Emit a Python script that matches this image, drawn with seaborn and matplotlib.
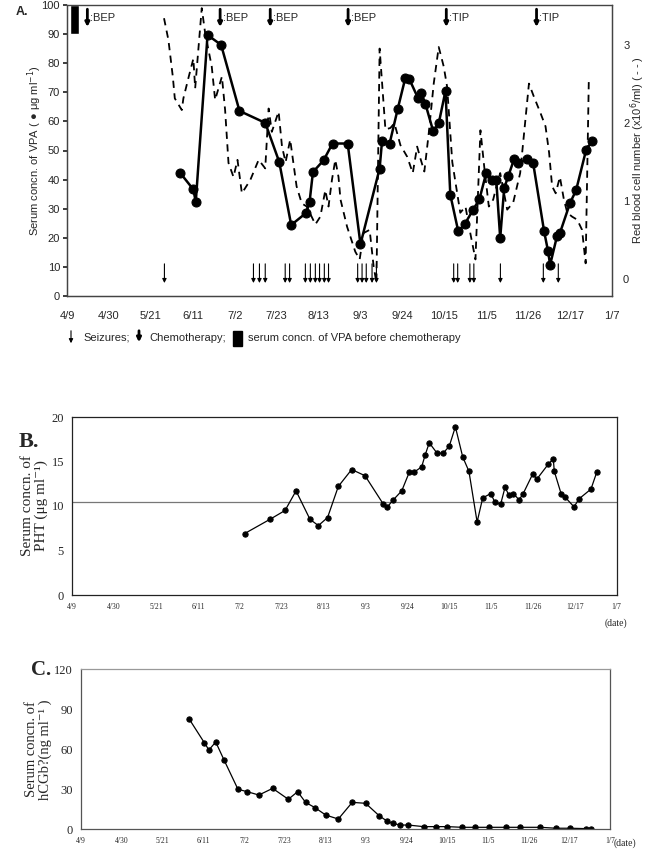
import matplotlib
matplotlib.use("Agg")
import matplotlib.pyplot as plt
import seaborn as sns
from matplotlib.patches import Rectangle

# x values are days counted from 4/9
tick_days = list(range(0, 274, 21))
tick_labels = ["4/9", "4/30", "5/21", "6/11", "7/2", "7/23", "8/13", "9/3",
               "9/24", "10/15", "11/5", "11/26", "12/17", "1/7"]

# Panel A: serum VPA (left axis)
vpa_days = [56.7, 63.3, 64.5, 70.4, 77.2, 86.4, 99.3, 106.3, 112.3, 119.7, 121.5,
            123.2, 128.5, 133.0, 140.6, 147.0, 156.6, 157.8, 161.6, 165.6, 169.5,
            171.5, 175.7, 177.5, 179.5, 183.4, 186.2, 189.6, 192.0, 196.0, 199.3,
            203.5, 206.6, 210.0, 213.0, 215.0, 217.0, 219.0, 221.0, 224.0, 226.0,
            230.5, 233.5, 239.0, 241.0, 242.0, 245.5, 247.0, 252.0, 255.0, 260.0,
            263.0]
vpa_values = [42.3, 36.6, 32.3, 89.7, 86.3, 63.6, 59.5, 46.1, 24.4, 28.5, 32.3,
              42.6, 46.6, 52.4, 52.4, 17.8, 43.8, 53.2, 52.4, 64.1, 75.0,
              74.5, 68.2, 69.7, 66.1, 56.7, 59.3, 70.5, 34.8, 22.2, 24.8,
              29.7, 33.3, 42.3, 40.0, 40.0, 19.9, 37.1, 41.1, 47.1, 45.7,
              47.1, 45.7, 22.2, 15.3, 10.7, 20.7, 21.8, 32.0, 36.3, 50.1,
              53.2]

# Panel A: red blood cell number (right axis, x10^6/ml)
rbc_days = [48.6, 50.8, 53.0, 54.0, 57.5, 58.3, 61.0, 63.3, 64.2, 67.5, 69.2,
            72.5, 74.2, 77.6, 79.2, 80.9, 83.4, 85.4, 87.6, 91.8, 96.0, 99.3,
            101.0, 102.6, 106.0, 107.7, 109.5, 111.8, 115.0, 117.6, 120.1, 124.4,
            126.9, 129.4, 131.0, 132.7, 134.4, 136.0, 137.0, 140.3, 144.4, 146.6,
            148.6, 151.6, 153.6, 155.0, 156.6, 159.5, 162.0, 164.0, 167.0, 170.4,
            173.2, 175.4, 177.0, 179.0, 181.2, 183.7, 186.2, 188.7, 190.4, 193.0,
            197.0, 199.6, 202.0, 204.6, 207.1, 209.0, 211.3, 213.5, 215.5, 217.0,
            220.5, 223.5, 227.0, 231.4, 233.9, 237.2, 239.7, 241.5, 243.0, 244.8,
            246.9, 248.9, 250.6, 253.0, 255.6, 258.0, 259.8, 261.4]
rbc_values = [3.35, 3.07, 2.60, 2.32, 2.17, 2.32, 2.60, 2.83, 2.45, 3.48, 3.16,
              2.73, 2.30, 2.60, 2.17, 1.49, 1.31, 1.53, 1.10, 1.27, 1.53, 1.42,
              2.19, 1.89, 2.15, 1.70, 1.50, 1.79, 1.19, 0.97, 0.93, 0.70,
              0.80, 1.14, 0.93, 1.27, 1.53, 1.31, 1.02, 0.67, 0.35, 0.25,
              0.59, 0.63, 0.16, -0.05, 2.96, 1.92, 1.94, 2.00, 1.72, 1.57,
              1.36, 1.70, 1.55, 1.38, 1.87, 2.51, 2.98, 2.73, 2.47, 1.50,
              0.85, 0.93, 0.59, 0.25, 1.91, 1.44, 0.93, 1.02, 1.23, 1.36,
              0.89, 0.98, 1.36, 2.51, 2.34, 2.13, 1.96, 1.62, 1.19, 1.10,
              1.31, 1.02, 0.85, 0.80, 0.76, 0.63, 0.20, 2.58]

seizure_days = [48.8, 93.4, 96.4, 99.3, 109.3, 111.5, 119.4, 121.9, 124.4, 126.5,
                128.9, 131.0, 145.6, 147.8, 149.9, 152.8, 155.0, 193.7, 195.7,
                201.8, 203.8, 217.1, 238.6, 246.1]
chemo_days = [10.2, 76.7, 101.8, 140.8, 190.0, 235.2]
chemo_labels = [":BEP", ":BEP", ":BEP", ":BEP", ":TIP", ":TIP"]
pre_chemo_day = 3.85
pre_chemo_range = [90, 100]

# Panel B: serum PHT
pht_days = [86.4, 99.1, 106.7, 112.2, 119.2, 123.4, 128.0, 133.4, 140.1, 146.8,
            156.0, 158.0, 161.0, 165.2, 169.0, 171.4, 175.2, 176.9, 179.0, 182.7,
            185.8, 189.0, 192.1, 195.8, 198.9, 203.0, 205.8, 209.8, 212.0, 214.8,
            217.0, 219.0, 221.2, 224.0, 225.9, 230.9, 232.9, 238.7, 241.2, 241.7,
            245.1, 247.1, 251.6, 254.1, 260.1, 263.0]
pht_values = [6.9, 8.5, 9.5, 11.7, 8.5, 7.8, 8.7, 12.2, 14.1, 13.4,
              10.2, 9.9, 10.7, 11.7, 13.8, 13.8, 14.4, 15.7, 17.1, 16.0,
              15.9, 16.7, 18.9, 15.5, 13.9, 8.2, 10.9, 11.4, 10.4, 10.2,
              12.1, 11.2, 11.4, 10.7, 11.3, 13.6, 13.0, 14.7, 15.3, 13.9,
              11.4, 11.0, 9.9, 10.8, 11.9, 13.8]
pht_reference = 10.5

# Panel C: serum hCG beta
hcg_days = [55.8, 63.5, 65.9, 69.4, 73.7, 80.9, 85.7, 91.7, 98.8, 106.9, 111.7,
            115.8, 120.7, 126.2, 132.7, 139.9, 146.8, 153.8, 158.0, 160.8, 164.5,
            168.8, 176.7, 183.1, 189.0, 196.5, 203.3, 210.4, 219.4, 226.4, 237.1,
            245.0, 252.4, 260.5, 263.1]
hcg_values = [82.5, 65.0, 59.5, 65.5, 52.0, 30.0, 28.2, 25.7, 30.7, 22.5, 28.2,
              20.2, 16.2, 10.7, 7.7, 20.2, 19.5, 10.2, 6.0, 4.5, 3.2,
              3.2, 2.0, 2.0, 2.0, 1.5, 1.5, 1.5, 1.5, 1.5, 1.5,
              0.8, 0.8, 0.5, 0.5]

W, H = 647, 852


def fx(px):
    return px / W


def fy(py):
    return 1 - py / H


sns.set_theme(style="white")
plt.rcParams["font.family"] = ["Liberation Sans", "DejaVu Sans"]
plt.rcParams["axes.linewidth"] = 0.9

fig = plt.figure(figsize=(W / 100, H / 100), dpi=100)

# ---------------- Panel A ----------------
ax = fig.add_axes([fx(67), fy(296), fx(612) - fx(67), fy(5) - fy(296)])
ax2 = ax.twinx()

ax.bar(pre_chemo_day, pre_chemo_range[1] - pre_chemo_range[0], bottom=pre_chemo_range[0],
       width=4.7, color="black", zorder=3)
sns.lineplot(x=vpa_days, y=vpa_values, ax=ax, color="black", lw=1.8, marker="o",
             markersize=6.5, markeredgecolor="black", zorder=4)
sns.lineplot(x=rbc_days, y=rbc_values, ax=ax2, color="black", lw=1.3,
             linestyle=(0, (4, 3)))

for d in seizure_days:
    ax.annotate("", xy=(d, 3.5), xytext=(d, 12),
                arrowprops=dict(arrowstyle="-|>", lw=0.8, color="black", mutation_scale=6))
for d, lab in zip(chemo_days, chemo_labels):
    ax.annotate("", xy=(d, 91.5), xytext=(d, 99.5),
                arrowprops=dict(arrowstyle="-|>", lw=2.0, color="black", mutation_scale=6))
    ax.text(d + 1.3, 95.7, lab, fontsize=8, va="center", ha="left")

ax.set_xlim(0, 273)
ax.set_ylim(0, 100)
ax.set_yticks(range(0, 101, 10))
ax.set_xticks(tick_days)
ax.set_xticklabels(tick_labels)
ax.tick_params(axis="x", direction="in", length=3, labelsize=8, pad=11)
ax.tick_params(axis="y", direction="out", length=3, labelsize=8, pad=2)
ax.set_ylabel("Serum concn. of VPA ( \u25CF \u03bcg ml$^{-1}$)", fontsize=8)
ax.yaxis.set_label_coords(-0.042, 0.5)
ax2.set_ylim(-0.22, 3.52)
ax2.set_yticks([0, 1, 2, 3])
ax2.tick_params(axis="y", length=0, labelsize=8, pad=8)
ax2.set_ylabel("Red blood cell number (x10$^{6}$/ml) ( - -\u2009)", fontsize=8, rotation=90)
ax2.yaxis.set_label_coords(1.047, 0.5)
ax2.yaxis.label.set_va("center")
for a in (ax, ax2):
    for s in a.spines.values():
        s.set_color("#444444")
ax.spines["top"].set_color("#888888")

fig.text(fx(16), fy(12), "A.", fontsize=9, fontweight="bold", va="center")

# legend row for panel A
ax.annotate("", xy=(fx(71), fy(346)), xytext=(fx(71), fy(328)), xycoords="figure fraction",
            arrowprops=dict(arrowstyle="-|>", lw=0.8, color="black", mutation_scale=6),
            annotation_clip=False)
fig.text(fx(83), fy(338), "Seizures;", fontsize=8, va="center")
ax.annotate("", xy=(fx(139), fy(345)), xytext=(fx(139), fy(328)), xycoords="figure fraction",
            arrowprops=dict(arrowstyle="-|>", lw=2.0, color="black", mutation_scale=6),
            annotation_clip=False)
fig.text(fx(149), fy(338), "Chemotherapy;", fontsize=8, va="center")
fig.add_artist(Rectangle((fx(233), fy(346)), fx(9), fy(331) - fy(346),
                         transform=fig.transFigure, color="black"))
fig.text(fx(248), fy(338), "serum concn. of VPA before chemotherapy", fontsize=8, va="center")

serif = ["Liberation Serif", "DejaVu Serif"]

# ---------------- Panel B ----------------
bx = fig.add_axes([fx(72.3), fy(595), fx(616.7) - fx(72.3), fy(417) - fy(595)])
bx.axhline(pht_reference, color="#777777", lw=0.9)
sns.lineplot(x=pht_days, y=pht_values, ax=bx, color="black", lw=0.9, marker="o",
             markersize=3.8, markeredgecolor="black")
bx.set_xlim(0, 273)
bx.set_ylim(0, 20)
bx.set_yticks(range(0, 21, 5))
bx.set_xticks(tick_days)
bx.set_xticklabels(tick_labels)
bx.tick_params(axis="x", direction="out", length=2.5, labelsize=5.5, pad=3)
bx.tick_params(axis="y", direction="out", length=3, labelsize=9, pad=3)
for lab in bx.get_xticklabels() + bx.get_yticklabels():
    lab.set_family(serif)
bx.set_ylabel("Serum concn. of\nPHT (\u03bcg ml\u207b\u00b9)", fontsize=11, family=serif,
              linespacing=1.05)
bx.yaxis.set_label_coords(-0.044, 0.5)
for s in bx.spines.values():
    s.set_color("#222222")
fig.text(fx(19), fy(442), "B.", fontsize=16, fontweight="bold", family=serif, va="center")
fig.text(fx(605), fy(623), "(date)", fontsize=7, family=serif, va="center")

# ---------------- Panel C ----------------
cx = fig.add_axes([fx(81.3), fy(829.3), fx(610) - fx(81.3), fy(669.3) - fy(829.3)])
sns.lineplot(x=hcg_days, y=hcg_values, ax=cx, color="black", lw=0.9, marker="o",
             markersize=3.8, markeredgecolor="black")
cx.set_xlim(0, 273)
cx.set_ylim(0, 120)
cx.set_yticks(range(0, 121, 30))
cx.set_xticks(tick_days)
cx.set_xticklabels(tick_labels)
cx.tick_params(axis="x", direction="out", length=2.5, labelsize=5.5, pad=3)
cx.tick_params(axis="y", direction="out", length=3, labelsize=9, pad=3)
for lab in cx.get_xticklabels() + cx.get_yticklabels():
    lab.set_family(serif)
cx.set_ylabel("Serum concn. of\nhCGb?(ng ml\u207b\u00b9 )", fontsize=10.5, family=serif,
              linespacing=1.05)
cx.yaxis.set_label_coords(-0.055, 0.5)
for s in cx.spines.values():
    s.set_color("#555555")
cx.spines["top"].set_color("#999999")
fig.text(fx(31), fy(670), "C.", fontsize=15, fontweight="bold", family=serif, va="center")
fig.text(fx(614), fy(843), "(date)", fontsize=7, family=serif, va="center")

fig.savefig("out.png", dpi=100)
